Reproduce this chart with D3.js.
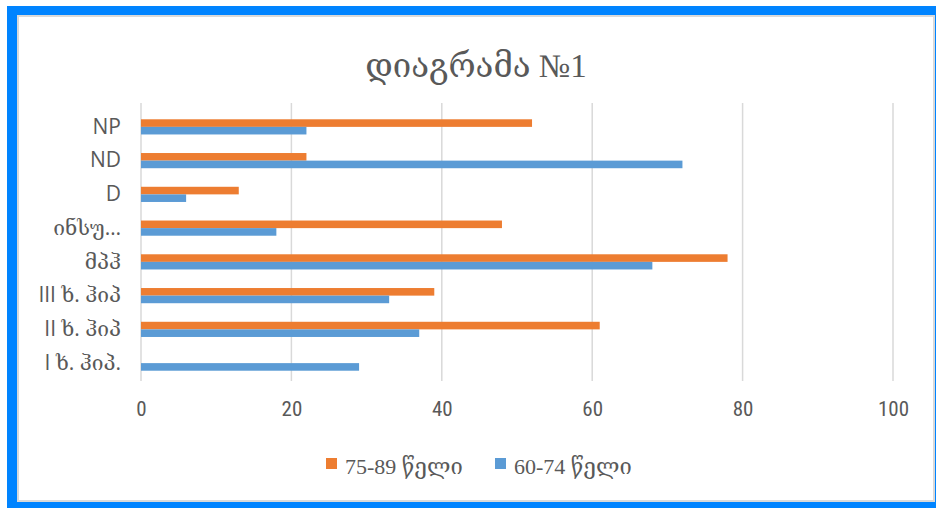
<!DOCTYPE html>
<html>
<head>
<meta charset="utf-8">
<script src="https://cdn.jsdelivr.net/npm/d3@7"></script>
<style>
  html, body { margin: 0; padding: 0; background: #ffffff; }
  svg { display: block; }
</style>
</head>
<body>
<svg id="chart" width="936" height="508"></svg>
<script>
// Categories, top to bottom
const categories = ["NP", "ND", "D", "ინსუ…", "მპჰ", "III ხ. ჰიპ", "II ხ. ჰიპ", "I ხ. ჰიპ."];
// Series values per category
const older = [52, 22, 13, 48, 78, 39, 61, 0];   // 75-89 წელი
const younger = [22, 72, 6, 18, 68, 33, 37, 29]; // 60-74 წელი
const seriesNames = ["75-89 წელი", "60-74 წელი"];
const seriesColors = ["#ED7D31", "#5B9BD5"];
const xTicks = [0, 20, 40, 60, 80, 100];
const title = "დიაგრამა №1";

const svg = d3.select("#chart");
const textColor = "#595959";
const gridColor = "#d9d9d9";

// Frame: blue outer band with a white panel inside
svg.append("rect").attr("x", 7).attr("y", 6).attr("width", 940).attr("height", 510).attr("fill", "#0084ff");
svg.append("rect").attr("x", 18).attr("y", 16).attr("width", 916).attr("height", 485)
  .attr("fill", "#ffffff").attr("stroke", "#d9d9d9").attr("stroke-width", 2);

const x = d3.scaleLinear().domain([0, 100]).range([141, 893]);
const y = d3.scaleBand().domain(categories).range([110, 380]).paddingInner(0.55).paddingOuter(0.275);
const ySub = d3.scaleBand().domain(seriesNames).range([0, y.bandwidth()]);

// Vertical gridlines
svg.append("g").selectAll("line").data(xTicks).join("line")
  .attr("x1", d => x(d)).attr("x2", d => x(d))
  .attr("y1", 103).attr("y2", 381)
  .attr("stroke", gridColor).attr("stroke-width", 1.5);

// Bars
const rows = categories.map((c, i) => ({ cat: c, values: [older[i], younger[i]] }));
const groups = svg.append("g").selectAll("g").data(rows).join("g")
  .attr("transform", d => `translate(0,${y(d.cat)})`);
groups.selectAll("rect").data(d => d.values.map((v, j) => ({ v, s: seriesNames[j], c: seriesColors[j] })))
  .join("rect")
  .attr("x", x(0))
  .attr("y", d => ySub(d.s))
  .attr("width", d => x(d.v) - x(0))
  .attr("height", ySub.bandwidth())
  .attr("fill", d => d.c);

// X axis tick labels
const xAxis = d3.axisBottom(x).tickValues(xTicks).tickSize(0).tickPadding(0);
const gx = svg.append("g").attr("transform", "translate(0,401)").call(xAxis);
gx.select(".domain").remove();
gx.selectAll("text")
  .attr("fill", textColor)
  .attr("dy", "0.72em")
  .style("font-family", "'Liberation Sans Narrow', 'Roboto Condensed', 'Liberation Sans', sans-serif")
  .style("font-size", "21px");

// Y axis category labels
const yAxis = d3.axisLeft(y).tickSize(0).tickPadding(0);
const gy = svg.append("g").attr("transform", "translate(121,0)").call(yAxis);
gy.select(".domain").remove();
gy.selectAll("text")
  .attr("fill", textColor)
  .style("font-family", "'Open Sans', 'DejaVu Serif', serif")
  .style("font-size", "21px");

// Title
svg.append("text")
  .attr("x", 476).attr("y", 77)
  .attr("text-anchor", "middle")
  .attr("fill", textColor)
  .style("font-family", "'Liberation Serif', 'DejaVu Serif', serif")
  .style("font-size", "33px")
  .text(title);

// Legend
const legendX = [326, 495];
const legend = svg.append("g").selectAll("g").data(seriesNames).join("g")
  .attr("transform", (d, i) => `translate(${legendX[i]},458)`);
legend.append("rect").attr("width", 11).attr("height", 11).attr("fill", (d, i) => seriesColors[i]);
legend.append("text")
  .attr("x", 19).attr("y", 8).attr("dy", "0.35em")
  .attr("fill", textColor)
  .style("font-family", "'Liberation Serif', 'DejaVu Serif', serif")
  .style("font-size", "22px")
  .text(d => d);
</script>
</body>
</html>
